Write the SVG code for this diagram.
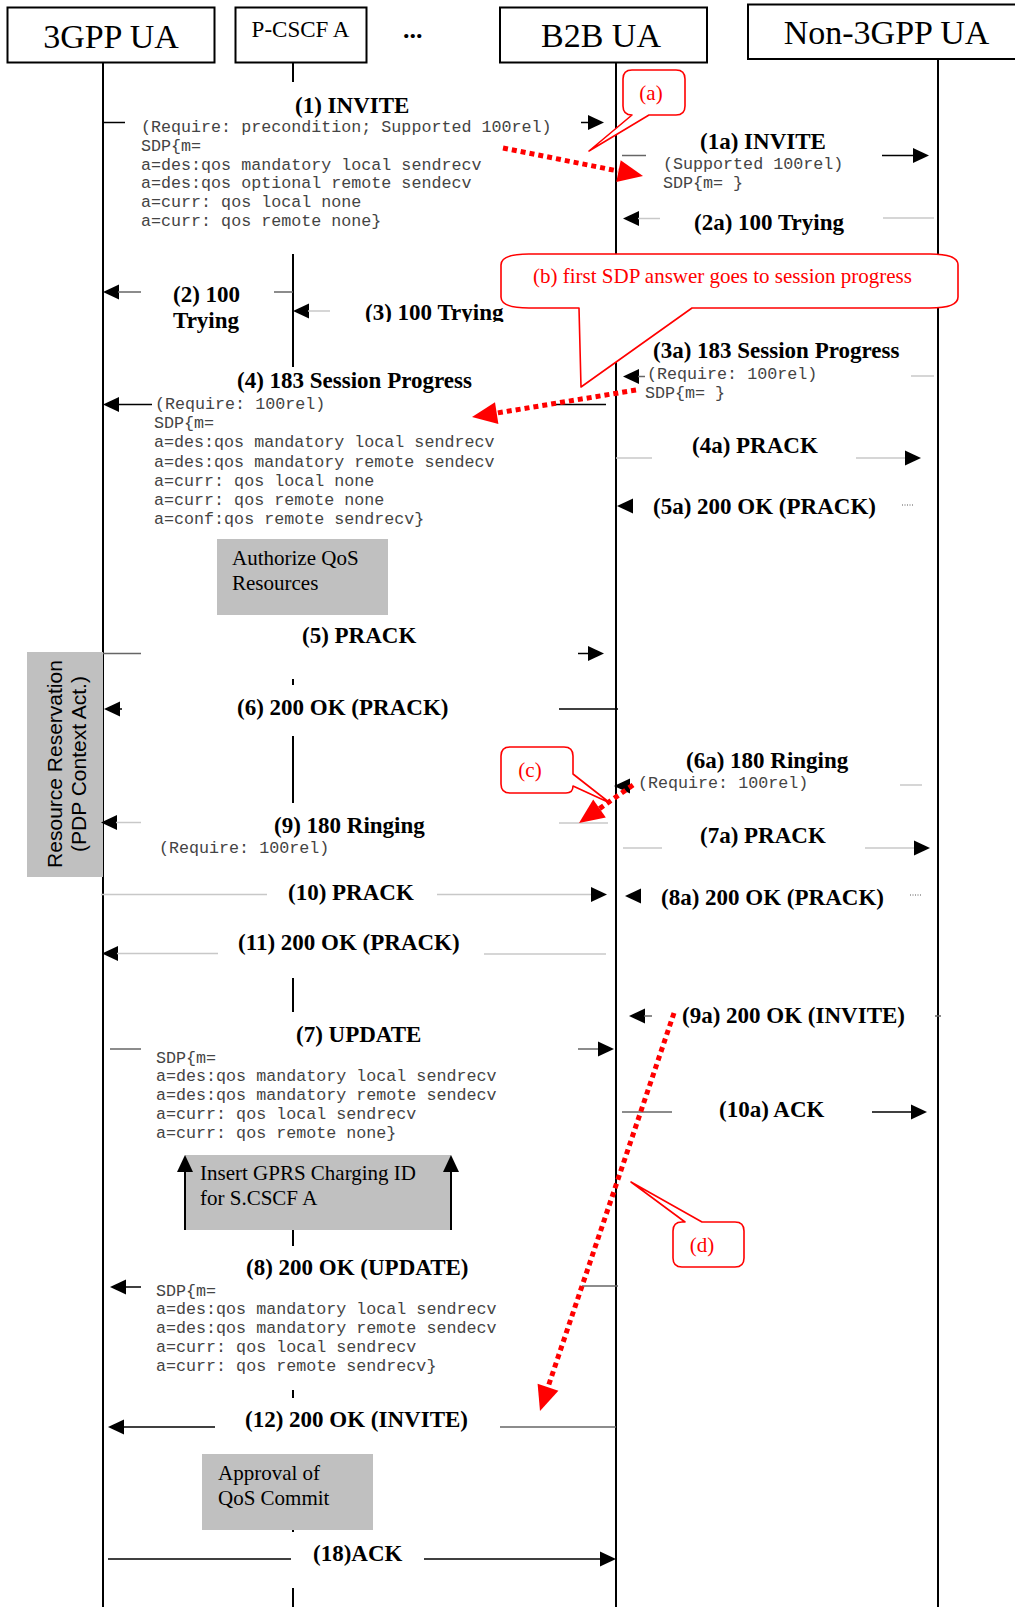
<svg xmlns="http://www.w3.org/2000/svg" xmlns:xlink="http://www.w3.org/1999/xlink" width="1015" height="1607" viewBox="0 0 1015 1607">
<style>
.hdr{fill:#fff;stroke:#000;stroke-width:2}
.life{stroke:#000;stroke-width:2}
.h33{font-family:"Liberation Serif","Times New Roman",serif;font-size:34px;fill:#000}
.h23{font-family:"Liberation Serif","Times New Roman",serif;font-size:23px;fill:#000}
.lbl{font-family:"Liberation Serif","Times New Roman",serif;font-weight:bold;font-size:23px;fill:#000}
.mono{font-family:"Liberation Mono","Courier New",monospace;font-size:16.7px;fill:#444}
.note{font-family:"Liberation Serif","Times New Roman",serif;font-size:21px;fill:#000}
.sans{font-family:"Liberation Sans",Arial,sans-serif;font-size:21px;fill:#000}
.gbox{fill:#c0c0c0}
.callout{fill:#fff;stroke:#f00;stroke-width:1.6;stroke-linejoin:round}
.redt{font-family:"Liberation Serif","Times New Roman",serif;font-size:21px;fill:#f00}
.rdot{stroke:#f00;stroke-width:5;stroke-dasharray:5 4;fill:none}
.rhead{fill:#f00}
.k{stroke:#000;stroke-width:1.5}
.g{stroke:#666;stroke-width:1.5}
.l{stroke:#c8c8c8;stroke-width:1.5}
.dots{stroke:#555;stroke-width:1;stroke-dasharray:1 1.5}
.ah{fill:#000}
</style>
<defs>
<path id="ahR" class="ah" d="M0,0 L-16,-7.5 L-16,7.5 Z"/>
<path id="ahL" class="ah" d="M0,0 L16,-7.5 L16,7.5 Z"/>
<path id="ahU" class="ah" d="M0,0 L-8,17 L8,17 Z"/>
<clipPath id="clip3"><rect x="340" y="290" width="220" height="32"/></clipPath>
</defs>
<rect width="1015" height="1607" fill="#fff"/>

<g id="node-3gpp-ua">
<line x1="103" y1="63" x2="103" y2="1607" class="life"/>
<rect x="7.5" y="7.5" width="207" height="55" class="hdr"/>
<text x="111" y="48" class="h33" text-anchor="middle">3GPP UA</text>
</g>
<g id="node-pcscf-a">
<g class="life">
<line x1="293" y1="63" x2="293" y2="82"/>
<line x1="293" y1="254" x2="293" y2="367"/>
<line x1="293" y1="679" x2="293" y2="685"/>
<line x1="293" y1="736" x2="293" y2="803"/>
<line x1="293" y1="978" x2="293" y2="1012"/>
<line x1="293" y1="1230" x2="293" y2="1246"/>
<line x1="293" y1="1390" x2="293" y2="1398"/>
<line x1="293" y1="1528" x2="293" y2="1532"/>
<line x1="293" y1="1588" x2="293" y2="1607"/>
</g>
<rect x="235.5" y="7.5" width="131" height="55" class="hdr"/>
<text x="300.5" y="37" class="h23" text-anchor="middle">P-CSCF A</text>
</g>
<g id="node-ellipsis">
<text x="403" y="38" class="lbl" style="font-size:26px">...</text>
</g>
<g id="node-b2b-ua">
<line x1="616" y1="63" x2="616" y2="1607" class="life"/>
<rect x="500" y="7.5" width="207" height="55" class="hdr"/>
<text x="601" y="47" class="h33" text-anchor="middle">B2B UA</text>
</g>
<g id="node-non3gpp-ua">
<line x1="938" y1="59" x2="938" y2="1607" class="life"/>
<rect x="748" y="4.5" width="300" height="54.5" class="hdr"/>
<text x="886.5" y="44" class="h33" text-anchor="middle">Non-3GPP UA</text>
</g>

<g id="node-authorize-qos">
<rect x="217" y="539" width="171" height="76" class="gbox"/>
<text x="232" y="565" class="note">Authorize QoS</text>
<text x="232" y="590" class="note">Resources</text>
</g>
<g id="node-resource-reservation">
<rect x="27" y="652" width="76" height="225" class="gbox"/>
<text transform="translate(62,764) rotate(-90)" text-anchor="middle" class="sans">Resource Reservation</text>
<text transform="translate(86,764) rotate(-90)" text-anchor="middle" class="sans">(PDP Context Act.)</text>
</g>
<g id="node-insert-gprs">
<rect x="185" y="1155" width="266" height="75" class="gbox"/>
<line x1="185" y1="1168" x2="185" y2="1230" class="k" style="stroke-width:2"/>
<line x1="451" y1="1168" x2="451" y2="1230" class="k" style="stroke-width:2"/>
<use href="#ahU" x="185" y="1155"/>
<use href="#ahU" x="451" y="1155"/>
<text x="200" y="1180" class="note">Insert GPRS Charging ID</text>
<text x="200" y="1205" class="note">for S.CSCF A</text>
</g>
<g id="node-approval">
<rect x="202" y="1454" width="171" height="76" class="gbox"/>
<text x="218" y="1480" class="note">Approval of</text>
<text x="218" y="1505" class="note">QoS Commit</text>
</g>

<g id="connectors">
<!-- (1) INVITE -->
<line x1="103" y1="122.5" x2="125" y2="122.5" class="k"/>
<line x1="581" y1="122.5" x2="590" y2="122.5" class="k"/>
<use href="#ahR" x="604" y="122.5"/>
<text x="295" y="113" class="lbl">(1) INVITE</text>
<!-- (1a) INVITE -->
<line x1="622" y1="155.5" x2="646" y2="155.5" class="g"/>
<line x1="882" y1="155.5" x2="915" y2="155.5" class="k"/>
<use href="#ahR" x="929" y="155.5"/>
<text x="700" y="149" class="lbl">(1a) INVITE</text>
<!-- (2a) 100 Trying -->
<use href="#ahL" x="623" y="218.5"/>
<line x1="638" y1="218.5" x2="660" y2="218.5" class="l"/>
<line x1="883" y1="218" x2="934" y2="218" class="l"/>
<text x="694" y="230" class="lbl">(2a) 100 Trying</text>
<!-- (2) 100 Trying -->
<use href="#ahL" x="103" y="292"/>
<line x1="118" y1="292" x2="141" y2="292" class="g"/>
<line x1="274" y1="292" x2="293" y2="292" class="g"/>
<text x="173" y="302" class="lbl">(2) 100</text>
<text x="173" y="328" class="lbl">Trying</text>
<!-- (3) 100 Trying -->
<use href="#ahL" x="293" y="311"/>
<line x1="308" y1="311" x2="330" y2="311" class="l"/>
<text x="365" y="320" class="lbl" clip-path="url(#clip3)">(3) 100 Trying</text>
<!-- (3a) 183 Session Progress -->
<use href="#ahL" x="623" y="376.5"/>
<line x1="638" y1="376.5" x2="645" y2="376.5" class="g"/>
<line x1="911" y1="376" x2="934" y2="376" class="l"/>
<text x="653" y="358" class="lbl">(3a) 183 Session Progress</text>
<!-- (4) 183 Session Progress -->
<use href="#ahL" x="103" y="404.5"/>
<line x1="118" y1="404.5" x2="152" y2="404.5" class="k"/>
<line x1="553" y1="404.5" x2="606" y2="404.5" class="k"/>
<text x="237" y="388" class="lbl">(4) 183 Session Progress</text>
<!-- (4a) PRACK -->
<line x1="616" y1="458" x2="652" y2="458" class="l"/>
<line x1="856" y1="458" x2="907" y2="458" class="l"/>
<use href="#ahR" x="921" y="458"/>
<text x="692" y="453" class="lbl">(4a) PRACK</text>
<!-- (5a) 200 OK (PRACK) -->
<use href="#ahL" x="617" y="506"/>
<line x1="902" y1="505" x2="913" y2="505" class="dots"/>
<text x="653" y="514" class="lbl">(5a) 200 OK (PRACK)</text>
<!-- (5) PRACK -->
<line x1="103" y1="653.5" x2="141" y2="653.5" class="g"/>
<line x1="578" y1="653.5" x2="590" y2="653.5" class="k"/>
<use href="#ahR" x="604" y="653.5"/>
<text x="302" y="643" class="lbl">(5) PRACK</text>
<!-- (6) 200 OK (PRACK) -->
<use href="#ahL" x="104" y="709"/>
<line x1="118" y1="709" x2="122" y2="709" class="k"/>
<line x1="559" y1="709" x2="618" y2="709" class="k"/>
<text x="237" y="715" class="lbl">(6) 200 OK (PRACK)</text>
<!-- (6a) 180 Ringing -->
<use href="#ahL" x="614" y="786"/>
<line x1="900" y1="785" x2="922" y2="785" class="l"/>
<text x="686" y="768" class="lbl">(6a) 180 Ringing</text>
<!-- (9) 180 Ringing -->
<use href="#ahL" x="101" y="822.5"/>
<line x1="116" y1="822.5" x2="141" y2="822.5" class="l"/>
<line x1="559" y1="823" x2="608" y2="823" class="l"/>
<text x="274" y="833" class="lbl">(9) 180 Ringing</text>
<!-- (7a) PRACK -->
<line x1="623" y1="848" x2="662" y2="848" class="l"/>
<line x1="865" y1="848" x2="916" y2="848" class="l"/>
<use href="#ahR" x="930" y="848"/>
<text x="700" y="843" class="lbl">(7a) PRACK</text>
<!-- (10) PRACK -->
<line x1="101" y1="894.5" x2="267" y2="894.5" class="l"/>
<line x1="437" y1="894.5" x2="594" y2="894.5" class="l"/>
<use href="#ahR" x="607" y="894.5"/>
<text x="288" y="900" class="lbl">(10) PRACK</text>
<!-- (8a) 200 OK (PRACK) -->
<use href="#ahL" x="625" y="896"/>
<line x1="910" y1="895" x2="921" y2="895" class="dots"/>
<text x="661" y="905" class="lbl">(8a) 200 OK (PRACK)</text>
<!-- (11) 200 OK (PRACK) -->
<use href="#ahL" x="102" y="953.5"/>
<line x1="117" y1="953.5" x2="218" y2="953.5" class="l"/>
<line x1="484" y1="954" x2="606" y2="954" class="l"/>
<text x="238" y="950" class="lbl">(11) 200 OK (PRACK)</text>
<!-- (9a) 200 OK (INVITE) -->
<use href="#ahL" x="629" y="1016"/>
<line x1="644" y1="1016" x2="652" y2="1016" class="g"/>
<line x1="935" y1="1016" x2="941" y2="1016" class="g"/>
<text x="682" y="1023" class="lbl">(9a) 200 OK (INVITE)</text>
<!-- (7) UPDATE -->
<line x1="110" y1="1049" x2="141" y2="1049" class="g"/>
<line x1="578" y1="1049" x2="600" y2="1049" class="g"/>
<use href="#ahR" x="614" y="1049"/>
<text x="296" y="1042" class="lbl">(7) UPDATE</text>
<!-- (10a) ACK -->
<line x1="622" y1="1112" x2="672" y2="1112" class="g"/>
<line x1="872" y1="1112" x2="912" y2="1112" class="k"/>
<use href="#ahR" x="927" y="1112"/>
<text x="719" y="1117" class="lbl">(10a) ACK</text>
<!-- (8) 200 OK (UPDATE) -->
<use href="#ahL" x="110" y="1287"/>
<line x1="125" y1="1287" x2="141" y2="1287" class="k"/>
<line x1="582" y1="1286" x2="618" y2="1286" class="g"/>
<text x="246" y="1275" class="lbl">(8) 200 OK (UPDATE)</text>
<!-- (12) 200 OK (INVITE) -->
<use href="#ahL" x="108" y="1427"/>
<line x1="123" y1="1427" x2="215" y2="1427" class="k"/>
<line x1="500" y1="1427" x2="616" y2="1427" class="g"/>
<text x="245" y="1427" class="lbl">(12) 200 OK (INVITE)</text>
<!-- (18) ACK -->
<line x1="108" y1="1559" x2="291" y2="1559" class="k"/>
<line x1="424" y1="1559" x2="601" y2="1559" class="k"/>
<use href="#ahR" x="616" y="1559"/>
<text x="313" y="1561" class="lbl">(18)ACK</text>
</g>

<g id="message-bodies">
<text class="mono">
<tspan x="141" y="132">(Require: precondition; Supported 100rel)</tspan>
<tspan x="141" y="150.8">SDP{m=</tspan>
<tspan x="141" y="169.6">a=des:qos mandatory local sendrecv</tspan>
<tspan x="141" y="188.4">a=des:qos optional remote sendecv</tspan>
<tspan x="141" y="207.2">a=curr: qos local none</tspan>
<tspan x="141" y="226">a=curr: qos remote none}</tspan>
</text>
<text class="mono">
<tspan x="663" y="168.5">(Supported 100rel)</tspan>
<tspan x="663" y="187.5">SDP{m= }</tspan>
</text>
<text class="mono">
<tspan x="647" y="378.5">(Require: 100rel)</tspan>
<tspan x="645" y="397.5">SDP{m= }</tspan>
</text>
<text class="mono">
<tspan x="155" y="409">(Require: 100rel)</tspan>
<tspan x="154" y="428.2">SDP{m=</tspan>
<tspan x="154" y="447.4">a=des:qos mandatory local sendrecv</tspan>
<tspan x="154" y="466.6">a=des:qos mandatory remote sendecv</tspan>
<tspan x="154" y="485.8">a=curr: qos local none</tspan>
<tspan x="154" y="505">a=curr: qos remote none</tspan>
<tspan x="154" y="524.2">a=conf:qos remote sendrecv}</tspan>
</text>
<text class="mono" x="638" y="787.5">(Require: 100rel)</text>
<text class="mono" x="159" y="852.5">(Require: 100rel)</text>
<text class="mono">
<tspan x="156" y="1062.5">SDP{m=</tspan>
<tspan x="156" y="1081.3">a=des:qos mandatory local sendrecv</tspan>
<tspan x="156" y="1100.1">a=des:qos mandatory remote sendecv</tspan>
<tspan x="156" y="1118.9">a=curr: qos local sendrecv</tspan>
<tspan x="156" y="1137.7">a=curr: qos remote none}</tspan>
</text>
<text class="mono">
<tspan x="156" y="1295.5">SDP{m=</tspan>
<tspan x="156" y="1314.3">a=des:qos mandatory local sendrecv</tspan>
<tspan x="156" y="1333.1">a=des:qos mandatory remote sendecv</tspan>
<tspan x="156" y="1351.9">a=curr: qos local sendrecv</tspan>
<tspan x="156" y="1370.7">a=curr: qos remote sendrecv}</tspan>
</text>
</g>

<g id="callout-a">
<path class="callout" d="M632,70 H676 Q685,70 685,79 V106 Q685,115 676,115 H649 L589,151 L632,115 Q623,115 623,106 V79 Q623,70 632,70 Z"/>
<text x="651" y="100" class="redt" text-anchor="middle">(a)</text>
</g>
<g id="callout-b">
<path class="callout" d="M529,254 H930 Q958,254 958,265 V297 Q958,308 930,308 H692 L581,387 L579,308 H529 Q501,308 501,297 V265 Q501,254 529,254 Z"/>
<text x="533" y="283" class="redt">(b) first SDP answer goes to session progress</text>
</g>
<g id="callout-c">
<path class="callout" d="M510,747 H564 Q573,747 573,756 V774 L610,803 L573,786 Q573,793 566,793 H510 Q501,793 501,784 V756 Q501,747 510,747 Z"/>
<text x="530" y="777" class="redt" text-anchor="middle">(c)</text>
</g>
<g id="callout-d">
<path class="callout" d="M673,1231 Q673,1222 682,1222 H685 L631,1182 L702,1222 H735 Q744,1222 744,1231 V1258 Q744,1267 735,1267 H682 Q673,1267 673,1258 Z"/>
<text x="702" y="1252" class="redt" text-anchor="middle">(d)</text>
</g>

<g id="annotation-arrows">
<line x1="503" y1="148" x2="618" y2="171" class="rdot"/>
<polygon class="rhead" points="643,176 616.3,181.9 620.7,160.3"/>
<line x1="636" y1="390" x2="497" y2="413" class="rdot"/>
<polygon class="rhead" points="472,417 498.4,424 495,402.2"/>
<line x1="633" y1="785" x2="599" y2="809" class="rdot"/>
<polygon class="rhead" points="579,823 605.8,817.6 593.2,799.6"/>
<line x1="674" y1="1013" x2="548" y2="1387" class="rdot"/>
<polygon class="rhead" points="540,1411 558.4,1390.8 537.6,1383.8"/>
</g>
</svg>
